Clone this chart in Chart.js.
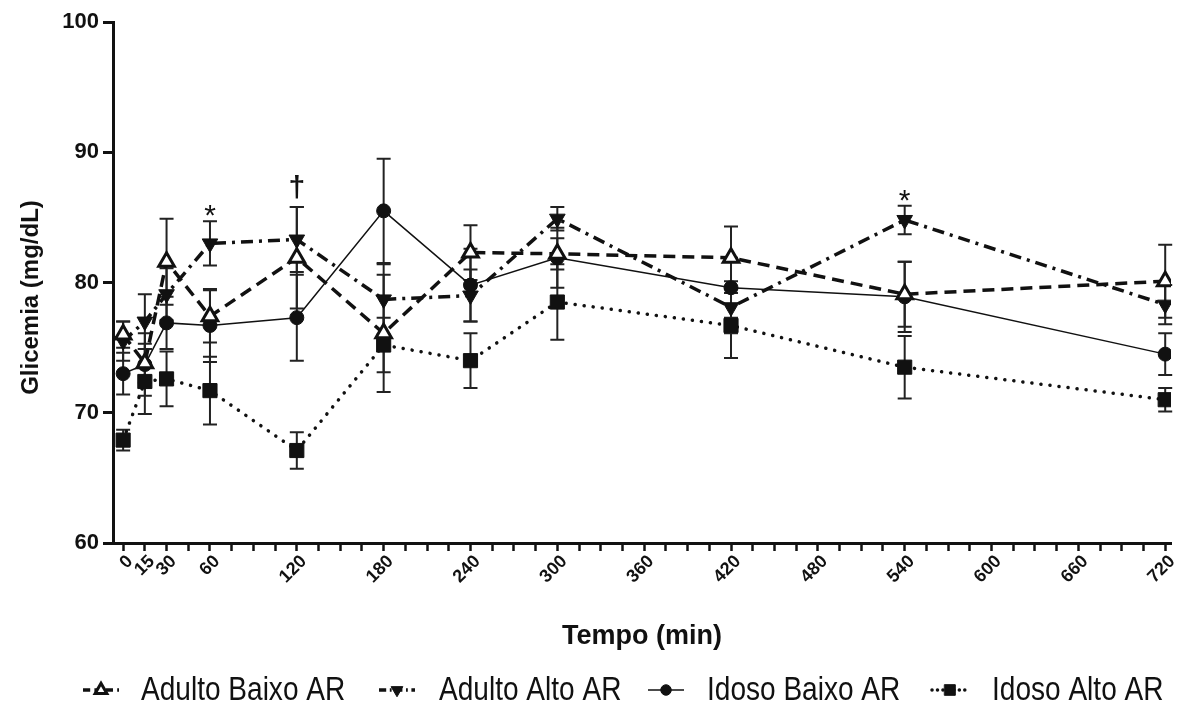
<!DOCTYPE html>
<html>
<head>
<meta charset="utf-8">
<title>Glicemia</title>
<script src="https://cdn.jsdelivr.net/npm/chart.js@4.4.1/dist/chart.umd.min.js"></script>
<style>
  html, body { margin: 0; padding: 0; background: #fff; }
  #wrap { position: relative; width: 1183px; height: 708px; }
</style>
</head>
<body>
<div id="wrap"><canvas id="chart"></canvas></div>
<script>
// time points (min)
const times = [0, 15, 30, 60, 120, 180, 240, 300, 420, 540, 720];

// means and SEM
const adultoBaixo    = [76.0, 73.8, 81.6, 77.4, 81.9, 76.1, 82.3, 82.2, 81.9, 79.1, 80.1];
const adultoBaixoErr = [1.0, 1.5, 3.3, 2.0, 3.9, 4.5, 2.1, 1.2, 2.4, 2.5, 2.8];
const adultoAlto     = [75.5, 77.0, 79.1, 83.0, 83.3, 78.7, 79.0, 84.9, 78.1, 84.8, 78.3];
const adultoAltoErr  = [1.5, 2.1, 2.0, 1.7, 2.5, 2.7, 2.0, 0.9, 2.0, 1.1, 1.5];
const idosoBaixo     = [73.0, 73.7, 76.9, 76.7, 77.3, 85.5, 79.8, 81.9, 79.6, 78.9, 74.5];
const idosoBaixoErr  = [1.6, 2.4, 2.0, 2.8, 3.3, 4.0, 2.8, 2.3, 2.3, 2.7, 1.6];
const idosoAlto      = [67.9, 72.4, 72.6, 71.7, 67.1, 75.2, 74.0, 78.5, 76.7, 73.5, 71.0];
const idosoAltoErr   = [0.8, 2.5, 2.1, 2.6, 1.4, 2.1, 2.1, 2.9, 2.5, 2.4, 0.9];

const seriesNames = ["Adulto Baixo AR", "Adulto Alto AR", "Idoso Baixo AR", "Idoso Alto AR"];

// axis ticks
const xTickLabels = [0, 15, 30, 60, 120, 180, 240, 300, 360, 420, 480, 540, 600, 660, 720];
const xMinorStep = 15;
const yTicks = [60, 70, 80, 90, 100];

// significance marks (placed above Adulto Alto AR error bar)
const markTimes = [60, 120, 540];
const markText = ["*", "\u2020", "*"];

const INK = "#111";
const FONT = "'Liberation Sans', Arial, sans-serif";

function pts(vals) {
  return times.map((t, i) => ({ x: t, y: vals[i] }));
}

const errors = [adultoBaixoErr, adultoAltoErr, idosoBaixoErr, idosoAltoErr];

const datasets = [
  {
    label: seriesNames[0], data: pts(adultoBaixo),
    borderColor: INK, borderWidth: 3.5, borderDash: [12, 7],
    pointStyle: "triangle", pointRadius: 9, pointBackgroundColor: "#fff",
    pointBorderColor: INK, pointBorderWidth: 3
  },
  {
    label: seriesNames[1], data: pts(adultoAlto),
    borderColor: INK, borderWidth: 3.5, borderDash: [12, 6, 3, 6],
    pointStyle: "triangle", pointRotation: 180, pointRadius: 9,
    pointBackgroundColor: INK, pointBorderColor: INK, pointBorderWidth: 1
  },
  {
    label: seriesNames[2], data: pts(idosoBaixo),
    borderColor: INK, borderWidth: 1.5,
    pointStyle: "circle", pointRadius: 7,
    pointBackgroundColor: INK, pointBorderColor: INK, pointBorderWidth: 1
  },
  {
    label: seriesNames[3], data: pts(idosoAlto),
    borderColor: INK, borderWidth: 3.5, borderDash: [0.1, 9], borderCapStyle: "round",
    pointStyle: "rect", pointRadius: 10,
    pointBackgroundColor: INK, pointBorderColor: INK, pointBorderWidth: 1
  }
];
datasets.forEach(d => { d.fill = false; d.tension = 0; d.pointHoverRadius = d.pointRadius; });

const errorBars = {
  id: "errorBars",
  beforeDatasetsDraw(chart) {
    const ctx = chart.ctx;
    const xs = chart.scales.x, ys = chart.scales.y;
    ctx.save();
    ctx.strokeStyle = "#222";
    ctx.lineWidth = 2;
    chart.data.datasets.forEach((ds, di) => {
      ds.data.forEach((p, i) => {
        const e = errors[di][i];
        const px = xs.getPixelForValue(p.x);
        const top = ys.getPixelForValue(p.y + e);
        const bot = ys.getPixelForValue(p.y - e);
        ctx.beginPath();
        ctx.moveTo(px, top); ctx.lineTo(px, bot);
        ctx.moveTo(px - 7, top); ctx.lineTo(px + 7, top);
        ctx.moveTo(px - 7, bot); ctx.lineTo(px + 7, bot);
        ctx.stroke();
      });
    });
    ctx.restore();
  },
  afterDatasetsDraw(chart) {
    const ctx = chart.ctx;
    const xs = chart.scales.x, ys = chart.scales.y;
    ctx.save();
    ctx.fillStyle = INK;
    ctx.textAlign = "center";
    ctx.textBaseline = "alphabetic";
    markTimes.forEach((t, k) => {
      const i = times.indexOf(t);
      const top = ys.getPixelForValue(adultoAlto[i] + adultoAltoErr[i]);
      const star = markText[k] === "*";
      ctx.font = star ? "30px " + FONT : "bold 30px " + FONT;
      ctx.fillText(markText[k], xs.getPixelForValue(t), star ? top + 4 : top - 10);
    });
    ctx.restore();
  }
};

const extraText = {
  id: "extraText",
  afterDraw(chart) {
    const ctx = chart.ctx;
    const ys = chart.scales.y;
    ctx.save();
    ctx.fillStyle = INK;
    // y axis title
    ctx.font = "bold 24px " + FONT;
    ctx.textAlign = "center";
    ctx.textBaseline = "middle";
    ctx.translate(31, (ys.top + ys.bottom) / 2 + 15);
    ctx.rotate(-Math.PI / 2);
    ctx.fillText("Glicemia (mg/dL)", 0, 0);
    ctx.restore();

    // legend
    const centers = [101, 397, 666, 950];
    const textX = [141, 439, 707, 992];
    const y = 690;
    ctx.save();
    chart.data.datasets.forEach((ds, i) => {
      ctx.strokeStyle = INK;
      ctx.lineWidth = ds.borderWidth;
      ctx.lineCap = ds.borderCapStyle || "butt";
      ctx.setLineDash(ds.borderDash ? ds.borderDash.map(v => v * 0.6) : []);
      ctx.beginPath();
      ctx.moveTo(centers[i] - 18, y);
      ctx.lineTo(centers[i] + 18, y);
      ctx.stroke();
      ctx.setLineDash([]);
      ctx.fillStyle = ds.pointBackgroundColor;
      ctx.strokeStyle = ds.pointBorderColor;
      ctx.lineWidth = ds.pointBorderWidth;
      Chart.helpers.drawPoint(ctx, {
        pointStyle: ds.pointStyle, rotation: ds.pointRotation || 0,
        radius: ds.pointRadius * 0.75, borderWidth: ds.pointBorderWidth
      }, centers[i], y);
      ctx.fillStyle = INK;
      ctx.font = "33px " + FONT;
      ctx.textAlign = "left";
      ctx.textBaseline = "middle";
      ctx.save();
      ctx.translate(textX[i], y + 1);
      ctx.scale(0.85, 1);
      ctx.fillText(ds.label, 0, 0);
      ctx.restore();
    });
    ctx.restore();
  }
};

new Chart(document.getElementById("chart"), {
  type: "line",
  data: { datasets },
  plugins: [errorBars, extraText],
  options: {
    responsive: true,
    maintainAspectRatio: false,
    animation: false,
    layout: { padding: { top: 22, right: 11, left: 0, bottom: 0 } },
    plugins: { legend: { display: false }, tooltip: { enabled: false } },
    scales: {
      x: {
        type: "linear",
        min: -7,
        max: 724,
        afterBuildTicks(scale) {
          const t = [];
          for (let v = 0; v <= 720; v += xMinorStep) t.push({ value: v });
          scale.ticks = t;
        },
        afterFit(scale) { scale.height = 708 - 543; },
        grid: { drawOnChartArea: false, drawTicks: true, tickLength: 8, tickWidth: 2.5, tickColor: INK },
        border: { display: true, color: INK, width: 3 },
        ticks: {
          autoSkip: false, minRotation: 45, maxRotation: 45, padding: 0, labelOffset: 7, color: INK,
          font: { family: FONT, size: 18, weight: "bold" },
          callback: v => xTickLabels.includes(v) ? String(v) : ""
        },
        title: {
          display: true, text: "Tempo (min)", color: INK,
          font: { family: FONT, size: 27, weight: "bold" },
          padding: { top: 0, bottom: 55 }
        }
      },
      y: {
        min: 60, max: 100,
        afterBuildTicks(scale) { scale.ticks = yTicks.map(v => ({ value: v })); },
        afterFit(scale) { scale.width = 113; },
        grid: { drawOnChartArea: false, drawTicks: true, tickLength: 10, tickWidth: 3, tickColor: INK },
        border: { display: true, color: INK, width: 3 },
        ticks: {
          padding: 4, color: INK,
          font: { family: FONT, size: 22, weight: "bold" }
        },
        title: { display: false }
      }
    }
  }
});
</script>
</body>
</html>
